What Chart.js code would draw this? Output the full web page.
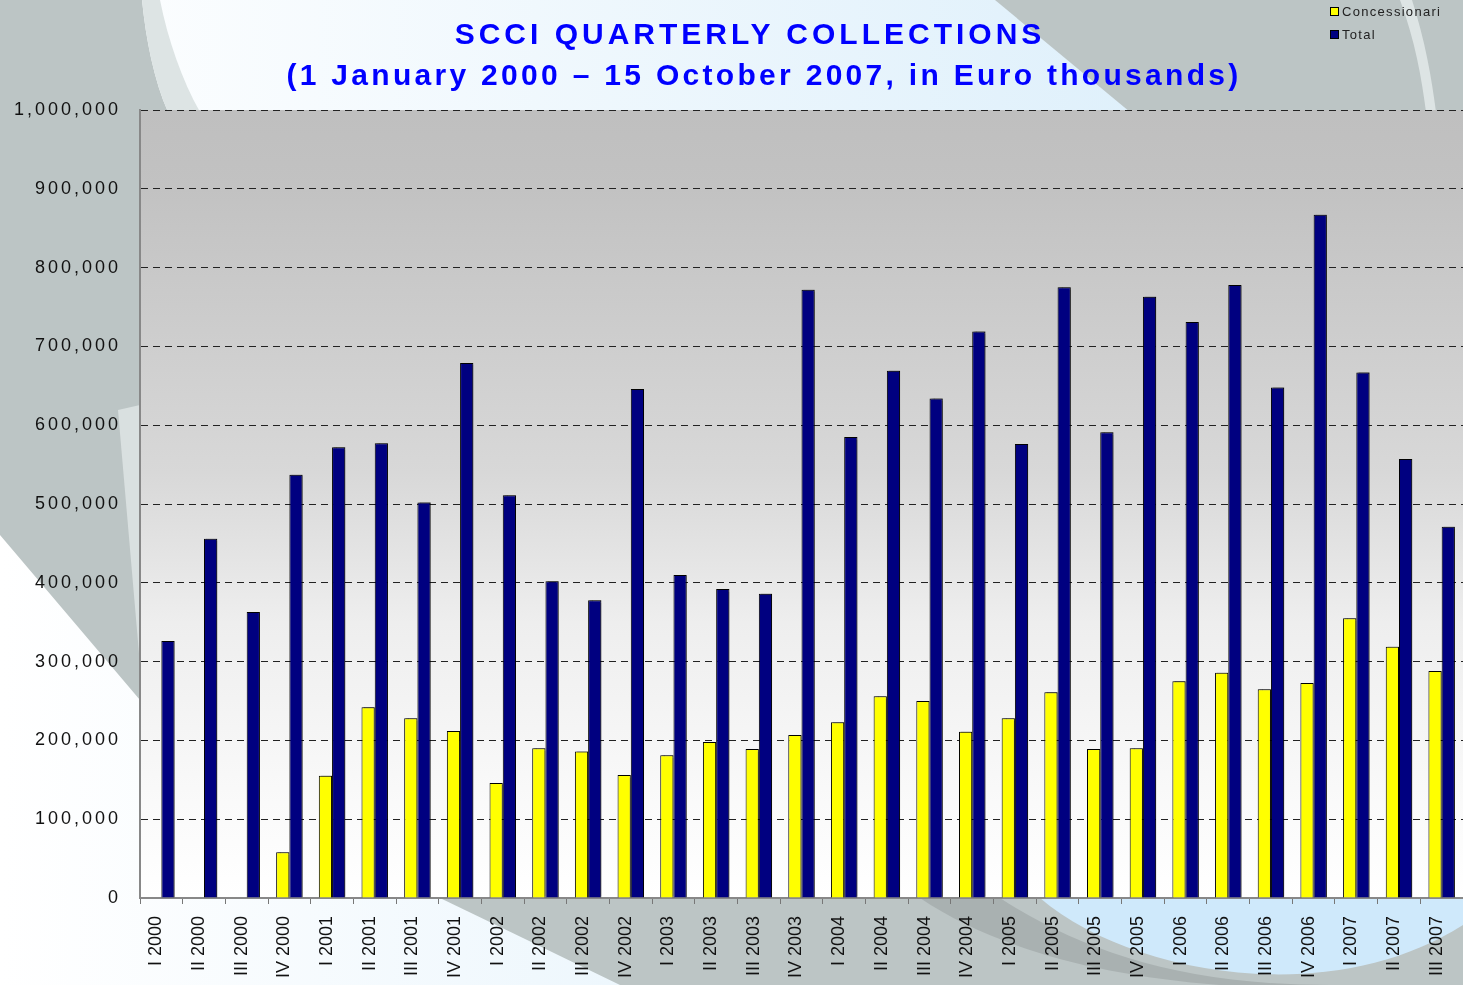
<!DOCTYPE html>
<html>
<head>
<meta charset="utf-8">
<title>SCCI quarterly collections</title>
<script src="https://cdn.jsdelivr.net/npm/chart.js@4.4.1/dist/chart.umd.min.js"></script>
<style>
  html, body { margin:0; padding:0; }
  body { width:1463px; height:985px; position:relative; overflow:hidden; font-family:"Liberation Sans", Arial, sans-serif; }
  #bg, #chart { position:absolute; left:0; top:0; }
  .title { position:absolute; text-align:center; color:#0000ff; font-weight:bold; font-size:30px; line-height:30px; white-space:nowrap; }
  #t1 { left:0; width:1500px; top:19px; letter-spacing:4px; }
  #t2 { left:0; width:1528px; top:60px; letter-spacing:3.3px; }
  #legend { position:absolute; left:1330px; top:4px; font-size:13px; color:#222; letter-spacing:1.3px; }
  #legend div { height:23px; line-height:16px; white-space:nowrap; }
  #legend .box { display:inline-block; width:7px; height:7px; border:1px solid #000; margin-right:3px; vertical-align:0px; }
</style>
</head>
<body>
<svg id="bg" width="1463" height="985" viewBox="0 0 1463 985">
  <defs>
    <linearGradient id="sky" x1="0" y1="0" x2="1" y2="0">
      <stop offset="0" stop-color="#ffffff"/>
      <stop offset="1" stop-color="#d6ecfa"/>
    </linearGradient>
  </defs>
  <rect width="1463" height="985" fill="url(#sky)"/>
  <path d="M0,0 L142,0 C146,40 154,80 168,112 L140,112 L140,700 L0,535 Z" fill="#bcc5c5"/>
  <path d="M142,0 L160,0 C168,40 182,80 200,112 L168,112 C154,80 146,40 142,0 Z" fill="#dde4e4"/>
  <path d="M118,410 L140,405 L140,665 Z" fill="#d9e0e0"/>
  <path d="M995,0 L1463,0 L1463,112 L1130,112 Z" fill="#bcc5c5"/>
  <path d="M1400,0 L1412,0 C1425,40 1432,80 1436,112 L1426,112 C1422,80 1415,40 1400,0 Z" fill="#dde4e4"/>
  <path d="M440,898 L1463,898 L1463,985 L620,985 Z" fill="#bcc5c5"/>
  <path d="M920,898 L1000,898 C1080,950 1180,985 1330,985 L1220,985 C1090,975 990,945 920,898 Z" fill="#a9b1b1"/>
  <path d="M1040,898 C1130,975 1330,1010 1463,925 L1463,898 Z" fill="#cfe9fb"/>
</svg>

<canvas id="chart" width="1463" height="985"></canvas>

<div class="title" id="t1">SCCI QUARTERLY COLLECTIONS</div>
<div class="title" id="t2">(1 January 2000 – 15 October 2007, in Euro thousands)</div>

<div id="legend">
  <div><span class="box" style="background:#ffff00"></span>Concessionari</div>
  <div><span class="box" style="background:#000080"></span>Total</div>
</div>

<script>
// quarters on the x axis
const quarters = [
  'I 2000', 'II 2000', 'III 2000', 'IV 2000',
  'I 2001', 'II 2001', 'III 2001', 'IV 2001',
  'I 2002', 'II 2002', 'III 2002', 'IV 2002',
  'I 2003', 'II 2003', 'III 2003', 'IV 2003',
  'I 2004', 'II 2004', 'III 2004', 'IV 2004',
  'I 2005', 'II 2005', 'III 2005', 'IV 2005',
  'I 2006', 'II 2006', 'III 2006', 'IV 2006',
  'I 2007', 'II 2007', 'III 2007'
];

// values (Euro thousands)
const concessionari = [
  null, null, null, 58000,
  155000, 242000, 228000, 212000,
  146000, 190000, 186000, 156000,
  181000, 198000, 189000, 207000,
  223000, 256000, 250000, 211000,
  228000, 261000, 189000, 190000,
  275000, 286000, 265000, 273000,
  355000, 319000, 288000
];
const total = [
  326000, 456000, 363000, 537000,
  572000, 577000, 502000, 679000,
  511000, 402000, 378000, 646000,
  410000, 392000, 386000, 772000,
  585000, 669000, 634000, 719000,
  576000, 775000, 591000, 763000,
  731000, 778000, 648000, 867000,
  667000, 557000, 471000
];

const yMax = 1000000;
const yStep = 100000;

const fontFamily = '"Liberation Sans", Arial, sans-serif';

// grey-to-white fill behind the bars
const plotBackground = {
  id: 'plotBackground',
  beforeDraw(chart) {
    const { ctx, chartArea: a } = chart;
    const g = ctx.createLinearGradient(0, a.top, 0, a.bottom);
    g.addColorStop(0, '#bfbfbf');
    g.addColorStop(0.1, '#c2c2c2');
    g.addColorStop(0.46, '#d8d8d8');
    g.addColorStop(0.65, '#eeeeee');
    g.addColorStop(0.88, '#fafafa');
    g.addColorStop(1, '#ffffff');
    ctx.save();
    ctx.fillStyle = g;
    ctx.fillRect(a.left, a.top, a.right - a.left, a.bottom - a.top);
    ctx.restore();
  }
};

// small drop shadow on the bars
const barShadow = {
  id: 'barShadow',
  beforeDatasetsDraw(chart) {
    const c = chart.ctx;
    c.save();
    c.shadowColor = 'rgba(0,0,0,0.35)';
    c.shadowOffsetX = 2;
    c.shadowOffsetY = -1;
    c.shadowBlur = 1;
  },
  afterDatasetsDraw(chart) {
    chart.ctx.restore();
  }
};

const chart = new Chart(document.getElementById('chart'), {
  type: 'bar',
  data: {
    labels: quarters,
    datasets: [
      { label: 'Concessionari', data: concessionari, backgroundColor: '#ffff00', borderColor: '#000', borderWidth: 1, borderSkipped: 'start' },
      { label: 'Total', data: total, backgroundColor: '#000080', borderColor: '#000', borderWidth: 1, borderSkipped: 'start' }
    ]
  },
  options: {
    responsive: false,
    animation: false,
    devicePixelRatio: 1,
    categoryPercentage: 0.62,
    barPercentage: 1.0,
    layout: { padding: { top: 110, right: 0, left: 0, bottom: 0 } },
    plugins: {
      legend: { display: false },
      title: { display: false },
      tooltip: { enabled: false }
    },
    scales: {
      x: {
        grid: { offset: true, drawOnChartArea: false, drawTicks: true, tickLength: 6, color: '#777' },
        border: { display: true, color: '#888', width: 2 },
        ticks: {
          autoSkip: false, maxRotation: 90, minRotation: 90,
          font: { family: fontFamily, size: 18 }, color: '#111',
          padding: 12, labelOffset: -5
        },
        afterFit(scale) {
          scale.height = 87;
          // plot runs to the right edge of the page
          scale.paddingLeft = 0;
          scale.paddingRight = 0;
        }
      },
      y: {
        min: 0, max: yMax,
        grid: { color: '#222', drawTicks: false, lineWidth: 1 },
        border: { display: true, color: '#888', width: 2, dash: [7, 5] },
        ticks: {
          stepSize: yStep,
          font: { family: fontFamily, size: 18 }, color: '#111',
          padding: 19,
          callback: v => v.toLocaleString('en-US')
        },
        afterFit(scale) { scale.width = 140; }
      }
    }
  },
  plugins: [plotBackground, barShadow]
});

// the y labels are spaced out in the original
const yScale = chart.scales.y;
const drawYLabels = yScale.drawLabels.bind(yScale);
yScale.drawLabels = function (area) {
  chart.ctx.save();
  chart.ctx.letterSpacing = '3px';
  drawYLabels(area);
  chart.ctx.restore();
};
chart.draw();
</script>
</body>
</html>
